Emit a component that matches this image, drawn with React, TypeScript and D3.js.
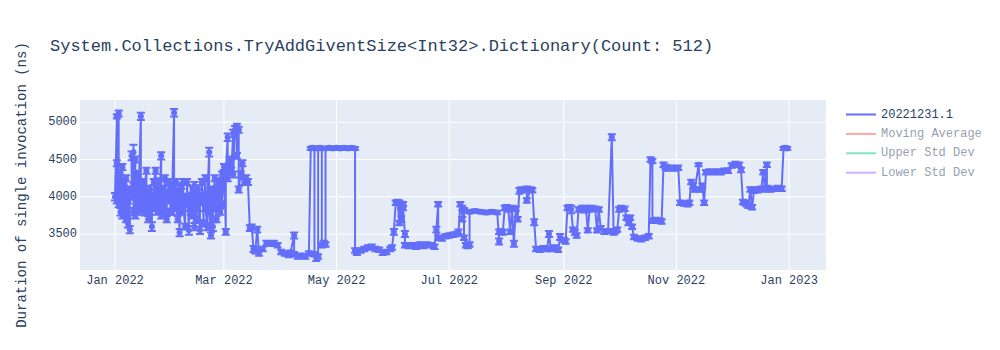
import React from "react";
import * as d3 from "d3";

// ---- data: one entry per benchmark run (date, mean duration ns, error ns) ----
const runDates: string[] = [
  // Jan
  "2022-01-01",
  "2022-01-02","2022-01-02","2022-01-02",
  "2022-01-03","2022-01-03","2022-01-03",
  "2022-01-04","2022-01-04","2022-01-04",
  "2022-01-05","2022-01-05","2022-01-05",
  "2022-01-06","2022-01-06",
  "2022-01-07","2022-01-07","2022-01-07",
  "2022-01-08","2022-01-08",
  "2022-01-09","2022-01-09",
  "2022-01-10","2022-01-10",
  "2022-01-11","2022-01-11","2022-01-11",
  "2022-01-12","2022-01-12",
  "2022-01-13","2022-01-13",
  "2022-01-14","2022-01-14",
  "2022-01-15","2022-01-15",
  "2022-01-16","2022-01-16",
  "2022-01-17","2022-01-17",
  "2022-01-18","2022-01-18",
  "2022-01-19","2022-01-19",
  "2022-01-20","2022-01-20",
  "2022-01-21","2022-01-21",
  "2022-01-22","2022-01-22",
  "2022-01-23","2022-01-23",
  "2022-01-24","2022-01-24",
  "2022-01-25","2022-01-25",
  "2022-01-26","2022-01-26",
  "2022-01-27","2022-01-27",
  "2022-01-28","2022-01-28",
  "2022-01-29","2022-01-29",
  "2022-01-30","2022-01-30",
  "2022-01-31","2022-01-31",
  // Feb
  "2022-02-01","2022-02-01","2022-02-02","2022-02-02","2022-02-03","2022-02-03","2022-02-04","2022-02-04",
  "2022-02-05","2022-02-05","2022-02-06","2022-02-06","2022-02-07","2022-02-07","2022-02-08","2022-02-08",
  "2022-02-09","2022-02-09","2022-02-10","2022-02-10","2022-02-11","2022-02-11","2022-02-12","2022-02-12",
  "2022-02-13","2022-02-13","2022-02-14","2022-02-14","2022-02-15","2022-02-15","2022-02-16","2022-02-16",
  "2022-02-17","2022-02-17","2022-02-18","2022-02-18","2022-02-19","2022-02-19","2022-02-20","2022-02-20",
  "2022-02-21","2022-02-21","2022-02-22","2022-02-22","2022-02-23","2022-02-23","2022-02-24","2022-02-24",
  "2022-02-25","2022-02-25","2022-02-26","2022-02-26","2022-02-27","2022-02-27","2022-02-28","2022-02-28",
  // Mar
  "2022-03-01","2022-03-02","2022-03-02","2022-03-03","2022-03-03","2022-03-04","2022-03-05","2022-03-06","2022-03-06","2022-03-07","2022-03-08","2022-03-08","2022-03-09","2022-03-09","2022-03-10","2022-03-11","2022-03-12","2022-03-13","2022-03-14","2022-03-15","2022-03-16","2022-03-17","2022-03-18","2022-03-19","2022-03-20","2022-03-22","2022-03-24","2022-03-26","2022-03-28","2022-03-30",
  // Apr
  "2022-04-01","2022-04-03","2022-04-05","2022-04-06","2022-04-08","2022-04-08","2022-04-10","2022-04-12","2022-04-14","2022-04-16","2022-04-17","2022-04-18","2022-04-19","2022-04-19","2022-04-20","2022-04-21","2022-04-21","2022-04-22","2022-04-23","2022-04-23","2022-04-24","2022-04-25","2022-04-25","2022-04-27","2022-04-29",
  // May
  "2022-05-01","2022-05-03","2022-05-05","2022-05-07","2022-05-09","2022-05-11","2022-05-11","2022-05-12","2022-05-14","2022-05-16","2022-05-18","2022-05-20","2022-05-22","2022-05-24","2022-05-26","2022-05-28","2022-05-30","2022-05-31",
  // Jun
  "2022-06-01","2022-06-02","2022-06-03","2022-06-04","2022-06-04","2022-06-05","2022-06-06","2022-06-06","2022-06-07","2022-06-07","2022-06-09","2022-06-11","2022-06-13","2022-06-15","2022-06-17","2022-06-19","2022-06-21","2022-06-23","2022-06-24","2022-06-25","2022-06-25","2022-06-27","2022-06-29",
  // Jul
  "2022-07-01","2022-07-03","2022-07-05","2022-07-06","2022-07-07","2022-07-08","2022-07-08","2022-07-09","2022-07-09","2022-07-10","2022-07-11","2022-07-12","2022-07-12","2022-07-15","2022-07-18","2022-07-21","2022-07-24","2022-07-27","2022-07-28","2022-07-28","2022-07-29","2022-07-30","2022-07-31",
  // Aug
  "2022-08-01","2022-08-02","2022-08-03","2022-08-04","2022-08-05","2022-08-06","2022-08-07","2022-08-08","2022-08-09","2022-08-10","2022-08-12","2022-08-12","2022-08-14","2022-08-15","2022-08-16","2022-08-17","2022-08-19","2022-08-21","2022-08-23","2022-08-24","2022-08-25","2022-08-27","2022-08-29","2022-08-30",
  // Sep
  "2022-09-01","2022-09-02","2022-09-03","2022-09-04","2022-09-05","2022-09-06","2022-09-07","2022-09-08","2022-09-09","2022-09-11","2022-09-12","2022-09-13","2022-09-14","2022-09-15","2022-09-16","2022-09-18","2022-09-19","2022-09-20","2022-09-21","2022-09-23","2022-09-25","2022-09-27","2022-09-28","2022-09-29","2022-09-30",
  // Oct
  "2022-10-01","2022-10-02","2022-10-04","2022-10-05","2022-10-06","2022-10-07","2022-10-08","2022-10-09","2022-10-11","2022-10-13","2022-10-15","2022-10-17","2022-10-18","2022-10-19","2022-10-19","2022-10-21","2022-10-23","2022-10-24","2022-10-25","2022-10-26","2022-10-27","2022-10-29","2022-10-31",
  // Nov
  "2022-11-02","2022-11-03","2022-11-05","2022-11-07","2022-11-08","2022-11-09","2022-11-10","2022-11-11","2022-11-13","2022-11-14","2022-11-15","2022-11-16","2022-11-17","2022-11-19","2022-11-21","2022-11-23","2022-11-25","2022-11-27","2022-11-29",
  // Dec
  "2022-12-01","2022-12-03","2022-12-05","2022-12-06","2022-12-07","2022-12-08","2022-12-09","2022-12-10","2022-12-11","2022-12-12","2022-12-13","2022-12-14","2022-12-15","2022-12-17","2022-12-18","2022-12-19","2022-12-20","2022-12-20","2022-12-22","2022-12-24","2022-12-26","2022-12-28","2022-12-29","2022-12-30","2022-12-31",
];

const meanDurations: number[] = [
  // Jan
  4000,
  5080,4450,3950,
  5120,3900,4200,
  4300,3800,4050,
  4400,3750,4150,
  4200,3850,
  3700,4000,4250,
  3650,3950,
  3560,4100,
  4000,4550,
  4600,3800,4150,
  4500,3750,
  4300,3900,
  3800,4200,
  5080,3900,
  4200,3850,
  3800,4100,
  4350,3900,
  3700,4050,
  4100,3800,
  3600,4000,
  3900,4200,
  4350,3850,
  3800,4150,
  4200,3900,
  4550,3750,
  4100,3850,
  4250,3800,
  3700,4050,
  3950,4200,
  4150,3800,
  // Feb
  3800,4100,5130,3850,4200,3900,3700,4050,
  3520,4100,3800,4150,4200,3850,3600,4000,
  3900,4200,3550,3950,4000,3800,3750,4100,
  3600,4150,3700,4050,4100,3850,3550,3950,
  4000,4200,3650,3950,4250,3850,3600,4000,
  4600,3800,3480,4100,3600,3950,4250,3850,
  3700,4100,4200,3850,3800,4150,4300,3900,
  // Mar
  4400,3530,4300,4800,4250,4500,4350,4850,4300,4900,4950,4550,4900,4100,4300,4450,4200,4250,4200,3580,3600,3300,3280,3560,3250,3300,3380,3370,3380,3350,
  // Apr
  3260,3240,3220,3250,3480,3230,3200,3210,3200,3240,4650,4660,4650,3230,3180,3200,4650,4660,4650,3350,3380,3360,4650,4660,4650,
  // May
  4660,4650,4660,4650,4660,4650,3280,3250,3280,3300,3320,3330,3300,3290,3250,3260,3300,3320,
  // Jun
  3530,3920,3930,3650,3920,3700,3900,3850,3500,3350,3340,3350,3330,3360,3340,3360,3350,3330,3560,3900,3450,3440,3470,
  // Jul
  3480,3490,3500,3530,3900,3850,3700,3820,3450,3350,3340,3360,3800,3810,3800,3790,3800,3790,3400,3530,3540,3520,3850,
  // Aug
  3860,3830,3530,3850,3370,3840,3700,4080,4100,4090,4110,3950,4100,4090,3660,3300,3290,3310,3300,3500,3300,3320,3290,3460,
  // Sep
  3420,3400,3850,3860,3830,3560,3520,3480,3830,3850,3820,3850,3550,3830,3850,3840,3550,3830,3580,3530,3540,4800,3520,3540,3560,
  // Oct
  3830,3850,3840,3720,3650,3720,3600,3460,3440,3430,3450,3470,4500,4480,3680,3690,3680,3670,4430,4400,4380,4390,4380,
  // Nov
  4390,3920,3910,3900,3920,4200,4150,4100,4430,4100,4150,3920,4330,4340,4330,4340,4330,4350,4350,
  // Dec
  4420,4440,4430,4360,3930,3920,3900,3880,4100,3860,4080,4100,4090,4110,4330,4100,4430,4120,4100,4110,4120,4110,4650,4660,4650,
];

const errorMargins: number[] = [
  // Jan
  50,
  30,40,40,
  40,40,40,
  60,50,40,
  40,40,40,
  50,40,
  40,40,40,
  60,40,
  50,40,
  40,60,
  100,50,40,
  40,40,
  50,40,
  40,40,
  50,40,
  40,40,
  50,40,
  40,40,
  40,40,
  50,40,
  60,40,
  40,40,
  40,40,
  40,40,
  50,40,
  50,40,
  40,40,
  40,40,
  40,40,
  40,40,
  40,40,
  // Feb
  40,40,50,40,40,40,40,40,
  50,50,40,40,40,40,40,40,
  40,40,60,40,40,40,40,40,
  50,50,40,40,50,40,50,40,
  40,40,40,40,40,40,50,40,
  60,40,40,40,60,40,40,40,
  40,40,40,40,40,40,40,40,
  // Mar
  40,40,40,50,40,40,40,50,40,50,30,40,40,40,40,40,40,40,40,40,30,40,40,40,40,30,30,30,30,30,
  // Apr
  30,30,30,30,40,30,30,30,30,30,20,20,20,30,40,30,20,20,20,30,30,30,20,20,20,
  // May
  20,20,20,20,20,20,30,30,30,30,30,30,30,30,30,30,30,30,
  // Jun
  40,30,30,30,30,40,30,30,40,30,30,30,30,30,30,30,30,30,40,30,30,30,30,
  // Jul
  30,30,30,30,30,30,30,30,30,30,30,30,25,25,25,25,25,25,40,30,30,30,30,
  // Aug
  30,30,30,30,40,30,30,40,30,30,30,30,30,30,40,30,30,30,30,40,30,30,30,40,
  // Sep
  30,30,30,30,50,30,30,30,30,30,30,30,30,30,30,30,30,30,30,30,30,40,30,30,30,
  // Oct
  30,30,30,30,30,30,30,30,30,30,30,30,30,30,30,30,30,30,30,30,30,30,30,
  // Nov
  30,30,30,30,30,30,40,30,20,30,30,30,30,30,30,30,30,30,30,
  // Dec
  30,30,30,30,30,30,30,30,30,30,30,30,30,30,30,30,30,30,30,30,30,30,20,20,20,
];

const yTickValues = [3500, 4000, 4500, 5000];
const xTickDates = ["2022-01-01", "2022-03-01", "2022-05-01", "2022-07-01", "2022-09-01", "2022-11-01", "2023-01-01"];
const legendLabels = ["20221231.1", "Moving Average", "Upper Std Dev", "Lower Std Dev"];
const legendColors = ["#636efa", "#EF553B", "#00cc96", "#ab63fa"];
const legendShown = [true, false, false, false];

const titleText = "System.Collections.TryAddGiventSize<Int32>.Dictionary(Count: 512)";
const yAxisTitle = "Duration of single invocation (ns)";

// ---- layout ----
const W = 1000;
const H = 350;
const plotL = 80;
const plotR = 826;
const plotT = 100;
const plotB = 270;
const FONT = "'Liberation Mono', 'Courier New', monospace";
const TEXT = "#2a3f5f";
const TRACE = "#636efa";

const parseDay = d3.timeParse("%Y-%m-%d");

export default function App() {
  const n = Math.min(runDates.length, meanDurations.length, errorMargins.length);
  const points = d3.range(n).map((i) => ({
    date: parseDay(runDates[i]) as Date,
    v: meanDurations[i],
    e: errorMargins[i],
  }));

  const x = d3
    .scaleTime()
    .domain([new Date(2021, 11, 13, 1, 12), new Date(2023, 0, 21)])
    .range([plotL, plotR]);
  const y = d3.scaleLinear().domain([3018, 5300]).range([plotB, plotT]);

  const line = d3
    .line<{ date: Date; v: number }>()
    .x((d) => x(d.date))
    .y((d) => y(d.v));

  const fmt = d3.timeFormat("%b %Y");
  const capW = 4;

  return (
    <svg
      width={W}
      height={H}
      style={{ position: "absolute", left: 0, top: 0, background: "#fff" }}
    >
      <defs>
        <clipPath id="plotclip">
          <rect x={plotL} y={plotT} width={plotR - plotL} height={plotB - plotT} />
        </clipPath>
      </defs>
      <rect x={plotL} y={plotT} width={plotR - plotL} height={plotB - plotT} fill="#E5ECF6" />
      {/* grid */}
      {xTickDates.map((s) => {
        const xx = x(parseDay(s) as Date);
        return <line key={s} x1={xx} x2={xx} y1={plotT} y2={plotB} stroke="#fff" strokeWidth={1} />;
      })}
      {yTickValues.map((t) => (
        <line key={t} x1={plotL} x2={plotR} y1={y(t)} y2={y(t)} stroke="#fff" strokeWidth={1} />
      ))}

      {/* trace */}
      <g clipPath="url(#plotclip)">
        <g stroke={TRACE} strokeWidth={2} fill="none">
          {points.map((p, i) => {
            const cx = x(p.date);
            const y1 = y(p.v + p.e);
            const y2 = y(p.v - p.e);
            return (
              <path
                key={i}
                d={`M${cx - capW},${y1}h${2 * capW}M${cx},${y1}V${y2}M${cx - capW},${y2}h${2 * capW}`}
              />
            );
          })}
        </g>
        <path d={line(points) || ""} fill="none" stroke={TRACE} strokeWidth={2} strokeLinejoin="round" />
        <g fill={TRACE}>
          {points.map((p, i) => (
            <circle key={i} cx={x(p.date)} cy={y(p.v)} r={3} />
          ))}
        </g>
      </g>

      {/* axes labels */}
      {yTickValues.map((t) => (
        <text
          key={t}
          x={plotL - 3}
          y={y(t)}
          textAnchor="end"
          dominantBaseline="central"
          fontFamily={FONT}
          fontSize={12}
          fill={TEXT}
        >
          {t}
        </text>
      ))}
      {xTickDates.map((s) => {
        const d = parseDay(s) as Date;
        return (
          <text
            key={s}
            x={x(d)}
            y={plotB + 14}
            textAnchor="middle"
            fontFamily={FONT}
            fontSize={12}
            fill={TEXT}
          >
            {fmt(d)}
          </text>
        );
      })}

      <text
        transform={`translate(22,${(plotT + plotB) / 2}) rotate(-90)`}
        textAnchor="middle"
        dominantBaseline="central"
        fontFamily={FONT}
        fontSize={14}
        fill={TEXT}
      >
        {yAxisTitle}
      </text>

      <text x={50} y={46} dominantBaseline="central" fontFamily={FONT} fontSize={17} fill={TEXT}>
        {titleText}
      </text>

      {/* legend */}
      {legendLabels.map((lab, i) => {
        const ly = 114.5 + i * 19.4;
        return (
          <g key={lab} opacity={legendShown[i] ? 1 : 0.5}>
            <line x1={846} x2={876} y1={ly} y2={ly} stroke={legendColors[i]} strokeWidth={2} />
            <text x={881} y={ly} dominantBaseline="central" fontFamily={FONT} fontSize={12} fill={TEXT}>
              {lab}
            </text>
          </g>
        );
      })}
    </svg>
  );
}
